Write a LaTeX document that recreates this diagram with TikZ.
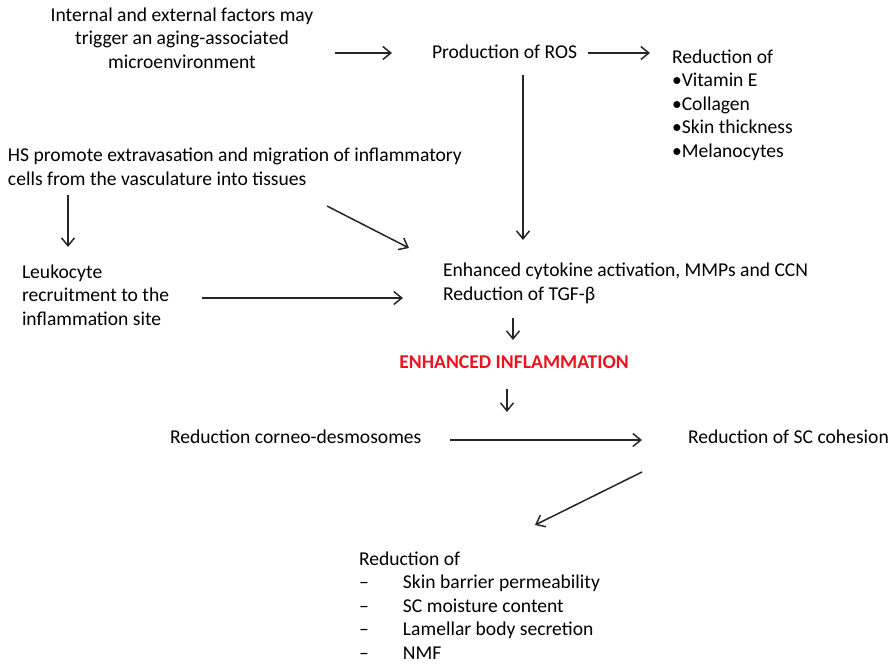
\documentclass[tikz,border=0pt]{standalone}
\usepackage{fontspec}
\setmainfont{Carlito}
\usetikzlibrary{arrows.meta}
\definecolor{hotred}{RGB}{235,20,30}
\tikzset{
  txt/.style={inner sep=0pt, outer sep=0pt, font=\fontsize{19.6}{23.5}\selectfont},
  arr/.style={-{Straight Barb[length=8pt,width=13pt]}, line width=1.5pt, color=black!85}
}
\begin{document}
\begin{tikzpicture}[x=1pt,y=-1pt]
\useasboundingbox (0,0) rectangle (888,665);
\fill[white] (0,0) rectangle (888,665);
% text nodes (multi-line nodes are placed by the baseline of their last line)
\node[txt, align=center, anchor=base] (int) at (182,68) {Internal and external factors may\\trigger an aging-associated\\microenvironment};
\node[txt, anchor=base west] (ros) at (432,58) {Production of ROS};
\node[txt, align=left, anchor=base west] (red1) at (672,157) {Reduction of\\•Vitamin E\\•Collagen\\•Skin thickness\\•Melanocytes};
\node[txt, align=left, anchor=base west] (hs) at (8,185) {HS promote extravasation and migration of inflammatory\\cells from the vasculature into tissues};
\node[txt, align=left, anchor=base west] (leu) at (22,325) {Leukocyte\\recruitment to the\\inflammation site};
\node[txt, align=left, anchor=base west] (cyt) at (443,300) {Enhanced cytokine activation, MMPs and CCN\\Reduction of TGF-β};
\node[txt, anchor=base, text=hotred, font=\fontsize{19.6}{23.5}\selectfont\bfseries] (inf) at (514,368) {ENHANCED INFLAMMATION};
\node[txt, anchor=base west] (cor) at (170,443) {Reduction corneo-desmosomes};
\node[txt, anchor=base west] (coh) at (688,443) {Reduction of SC cohesion};
\node[txt, align=left, anchor=base west] (red2) at (359,659) {Reduction of\\\makebox[44pt][l]{–}Skin barrier permeability\\\makebox[44pt][l]{–}SC moisture content\\\makebox[44pt][l]{–}Lamellar body secretion\\\makebox[44pt][l]{–}NMF};
% connector ends
\coordinate (a1s) at (335,53); \coordinate (a1e) at (392,53);
\coordinate (a2s) at (588,53); \coordinate (a2e) at (650,53);
\coordinate (a3s) at (523,75); \coordinate (a3e) at (523,240);
\coordinate (a4s) at (68,195); \coordinate (a4e) at (68,247);
\coordinate (a5s) at (327,206); \coordinate (a5e) at (409,248);
\coordinate (a6s) at (202,298); \coordinate (a6e) at (403,298);
\coordinate (a7s) at (513,318); \coordinate (a7e) at (513,340);
\coordinate (a8s) at (507,389); \coordinate (a8e) at (507,412);
\coordinate (a9s) at (450,440); \coordinate (a9e) at (642,440);
\coordinate (a10s) at (642,472); \coordinate (a10e) at (535,525);
\draw[arr] (a1s) -- (a1e);
\draw[arr] (a2s) -- (a2e);
\draw[arr] (a3s) -- (a3e);
\draw[arr] (a4s) -- (a4e);
\draw[arr] (a5s) -- (a5e);
\draw[arr] (a6s) -- (a6e);
\draw[arr] (a7s) -- (a7e);
\draw[arr] (a8s) -- (a8e);
\draw[arr] (a9s) -- (a9e);
\draw[arr] (a10s) -- (a10e);
\end{tikzpicture}
\end{document}
